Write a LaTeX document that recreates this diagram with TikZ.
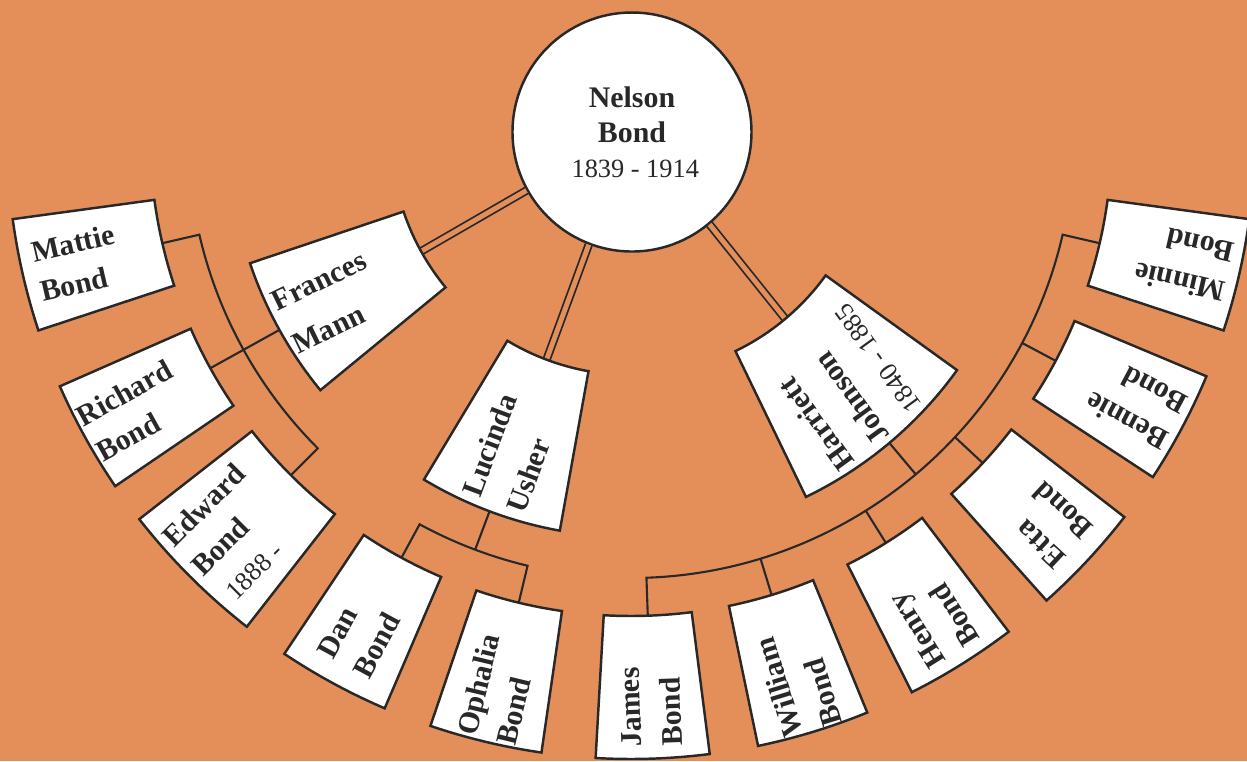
\documentclass[tikz,border=0pt]{standalone}
\usepackage{fontspec}
\setmainfont{Liberation Serif}
\definecolor{bgorange}{RGB}{228,143,90}
\definecolor{ink}{RGB}{40,40,40}
\newcommand{\fanbox}[4]{%
  \draw[boxline] ({#1-#2}:#3) arc[start angle={#1-#2},end angle={#1+#2},radius=#3]
    -- ({#1+#2}:#4) arc[start angle={#1+#2},end angle={#1-#2},radius=#4] -- cycle;}
\newcommand{\datefont}[1]{\mdseries\fontsize{7.5}{#1}\selectfont}

\begin{document}
\begin{tikzpicture}[
  boxline/.style={draw=ink,line width=0.7pt,fill=white},
  kid/.style={font=\bfseries\fontsize{8.5}{11.5}\selectfont,text=ink,align=left,inner sep=0pt},
  wife/.style={font=\bfseries\fontsize{8.5}{13.5}\selectfont,text=ink,align=left,inner sep=0pt},
  link/.style={draw=ink,line width=0.6pt},
  marriage/.style={draw=ink,line width=0.5pt,double=bgorange,double distance=1.4pt}]
  \useasboundingbox (-6.31,-6.26) rectangle (6.16,1.35);
  \fill [bgorange] (-6.31,-6.26) rectangle (6.16,1.35);

  % edges of the boxes and of the arcs
  \coordinate (frances-in) at (209:2.4);
  \coordinate (frances-out) at (209:4.02);
  \coordinate (lucinda-in) at (249.4:2.4);
  \coordinate (lucinda-out) at (249.4:4.02);
  \coordinate (lucinda-arc) at (249.4:4.43);
  \coordinate (harriett-in) at (310:2.4);
  \coordinate (harriett-out) at (310:4.02);
  \coordinate (harriett-arc) at (310:4.43);
  \coordinate (mattie-in) at (193:4.81);
  \coordinate (mattie-arc) at (193:4.43);
  \coordinate (richard-in) at (209:4.81);
  \coordinate (edward-in) at (225:4.81);
  \coordinate (dan-in) at (241.5:4.81);
  \coordinate (dan-arc) at (241.5:4.43);
  \coordinate (ophalia-in) at (256.5:4.81);
  \coordinate (james-in) at (272:4.81);
  \coordinate (james-arc) at (272:4.43);
  \coordinate (william-in) at (287:4.81);
  \coordinate (william-arc) at (287:4.43);
  \coordinate (henry-in) at (302:4.81);
  \coordinate (henry-arc) at (302:4.43);
  \coordinate (etta-in) at (317:4.81);
  \coordinate (etta-arc) at (317:4.43);
  \coordinate (bennie-in) at (332:4.81);
  \coordinate (bennie-arc) at (332:4.43);
  \coordinate (minnie-in) at (347:4.81);

  \node [draw=ink,line width=0.7pt,fill=white,circle,minimum size=2.39cm,inner sep=0pt,
    align=center,text=ink,font=\bfseries\fontsize{8.5}{10}\selectfont] (nelson) at (0.01,0.03)
    {Nelson\\Bond\\\datefont{9} 1839 - 1914};
  \draw [marriage] (nelson.209) -- (frances-in);
  \draw [marriage] (nelson.249) -- (lucinda-in);
  \draw [marriage] (nelson.310) -- (harriett-in);

  \draw [link] (mattie-in) -- (mattie-arc) arc[start angle=193,end angle=225,radius=4.43] -- (edward-in);
  \draw [link] (frances-out) -- (richard-in);
  \draw [link] (dan-in) -- (dan-arc) arc[start angle=241.5,end angle=256.5,radius=4.43] -- (ophalia-in);
  \draw [link] (lucinda-out) -- (lucinda-arc);
  \draw [link] (james-in) -- (james-arc) arc[start angle=272,end angle=347,radius=4.43] -- (minnie-in);
  \draw [link] (harriett-out) -- (harriett-arc);
  \draw [link] (william-arc) -- (william-in);
  \draw [link] (henry-arc) -- (henry-in);
  \draw [link] (etta-arc) -- (etta-in);
  \draw [link] (bennie-arc) -- (bennie-in);

  \fanbox{209}{10.4}{2.4}{4.02}
  \fanbox{249.4}{10.4}{2.4}{4.02}
  \fanbox{310}{14.2}{2.4}{4.02}
  \fanbox{193}{5.25}{4.81}{6.24}
  \fanbox{209}{5.25}{4.81}{6.24}
  \fanbox{225}{7}{4.81}{6.24}
  \fanbox{241.5}{5.25}{4.81}{6.24}
  \fanbox{256.5}{5.25}{4.81}{6.24}
  \fanbox{272}{5.25}{4.81}{6.24}
  \fanbox{287}{5.25}{4.81}{6.24}
  \fanbox{302}{5.25}{4.81}{6.24}
  \fanbox{317}{5.25}{4.81}{6.24}
  \fanbox{332}{5.25}{4.81}{6.24}
  \fanbox{347}{5.25}{4.81}{6.24}

  \node [wife,rotate=26] (frances) at (209:3.45) {Frances\\Mann};
  \node [wife,rotate=69.4] (lucinda) at (249.4:3.4) {Lucinda\\Usher};
  \node [wife,rotate=126,font=\bfseries\fontsize{8.5}{12.5}\selectfont] (harriett) at (310:3.3)
    {Harriett\\Johnson\\\datefont{12.5} 1840 - 1885};
  \node [kid,rotate=13] (mattie) at (193:5.68) {Mattie\\Bond};
  \node [kid,rotate=29] (richard) at (209:5.68) {Richard\\Bond};
  \node [kid,rotate=45] (edward) at (225:5.64) {Edward\\Bond\\\datefont{11} 1888 -};
  \node [kid,rotate=61.5] (dan) at (241.5:5.7) {Dan\\Bond};
  \node [kid,rotate=76.5] (ophalia) at (256.5:5.7) {Ophalia\\Bond};
  \node [kid,rotate=92] (james) at (272:5.72) {James\\Bond};
  \node [kid,rotate=107] (william) at (287:5.72) {William\\Bond};
  \node [kid,rotate=122] (henry) at (302:5.72) {Henry\\Bond};
  \node [kid,rotate=137] (etta) at (317:5.72) {Etta\\Bond};
  \node [kid,rotate=152] (bennie) at (332:5.72) {Bennie\\Bond};
  \node [kid,rotate=167] (minnie) at (347:5.68) {Minnie\\Bond};
\end{tikzpicture}
\end{document}
